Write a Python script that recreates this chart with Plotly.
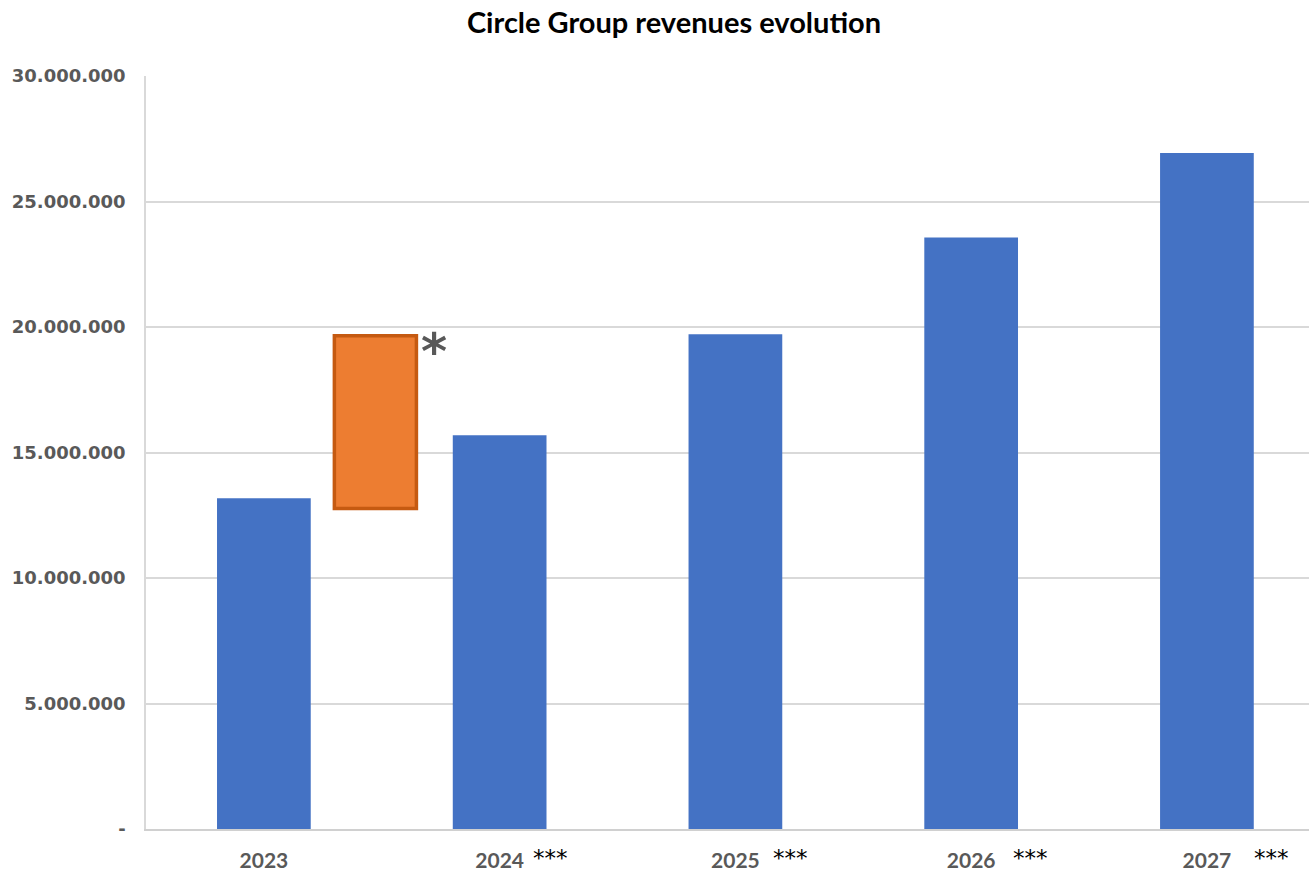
import plotly.graph_objects as go

years = ["2023", "2024", "2025", "2026", "2027"]
revenues = [13180000, 15690000, 19710000, 23570000, 26930000]
year_marks = ["", "***", "***", "***", "***"]
mark_shift = [0, 32, 37, 41, 46]

# orange range box between 2023 and 2024
box_pos = [0.473]
box_low = [12770000]
box_high = [19650000]

y_ticks = [0, 5000000, 10000000, 15000000, 20000000, 25000000, 30000000]
y_tick_text = ["-", "5.000.000", "10.000.000", "15.000.000", "20.000.000", "25.000.000", "30.000.000"]

xs = list(range(len(years)))

fig = go.Figure()
fig.add_trace(go.Bar(
    x=xs, y=revenues, width=0.3975,
    marker=dict(color="#4472C4", line=dict(width=0)),
    showlegend=False, hoverinfo="y",
))
fig.add_trace(go.Bar(
    x=box_pos, y=[h - l for h, l in zip(box_high, box_low)], base=box_low,
    width=0.348,
    marker=dict(color="#ED7D31", line=dict(color="#C55A11", width=3.5)),
    showlegend=False,
))

annotations = []
for i, m in enumerate(year_marks):
    if m:
        annotations.append(dict(
            x=xs[i], xref="x", y=0, yref="paper", text=m, showarrow=False,
            xanchor="left", yanchor="middle", xshift=mark_shift[i] - 1, yshift=-29,
            font=dict(family="DejaVu Sans", size=23, color="#000000"),
        ))
annotations.append(dict(
    x=box_pos[0] + 0.348 / 2, xref="x", y=box_high[0], yref="y", text="<b>*</b>",
    showarrow=False, xanchor="left", yanchor="top", xshift=3, yshift=15,
    font=dict(family="DejaVu Sans", size=50, color="#595959"),
))

fig.update_layout(
    width=1309, height=872,
    margin=dict(l=146, r=0, t=76, b=41),
    plot_bgcolor="white", paper_bgcolor="white",
    barmode="overlay",
    title=dict(text="<b>Circle Group revenues evolution</b>", x=674 / 1309, xref="container",
               xanchor="center", y=1 - 23 / 872, yanchor="middle",
               font=dict(family="Lato", size=29, color="#000000")),
    xaxis=dict(range=[-0.5, 4.433], tickvals=xs, ticktext=years, showgrid=False,
               showline=True, linecolor="#d0d0d0", linewidth=1.5, zeroline=False,
               ticks="", ticklabelstandoff=12,
               tickfont=dict(family="Lato", size=21, color="#595959", weight="bold")),
    yaxis=dict(range=[0, 30000000], tickvals=y_ticks, ticktext=y_tick_text,
               showgrid=True, gridcolor="#d9d9d9", gridwidth=1.5,
               showline=True, linecolor="#d9d9d9", linewidth=1.5, zeroline=False,
               ticks="", ticklabelstandoff=15,
               tickfont=dict(family="DejaVu Sans", size=18, color="#595959", weight="bold")),
    annotations=annotations,
)

fig.write_html("out.html", config={"displayModeBar": False},
               post_script="document.body.style.margin='0';document.body.style.overflow='hidden';")
